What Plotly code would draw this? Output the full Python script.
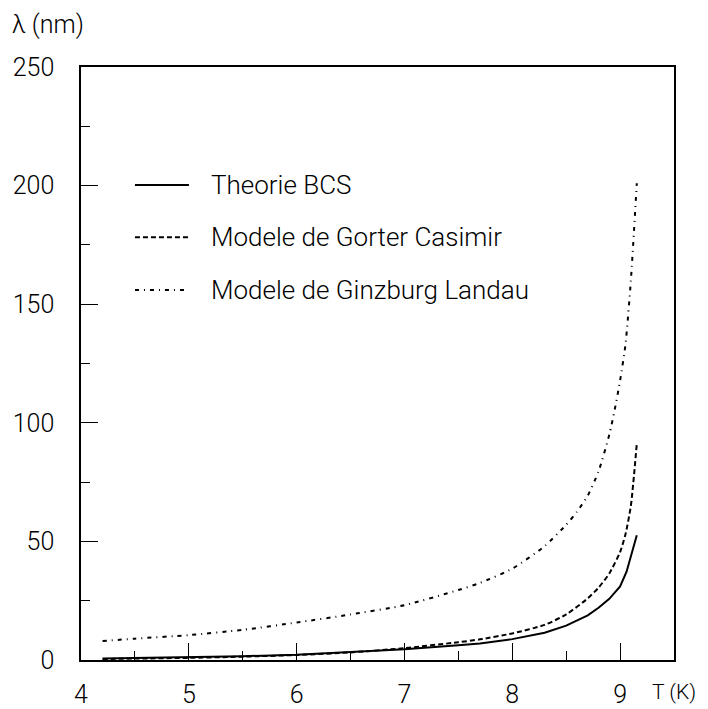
import plotly.graph_objects as go

# Temperature grids (K) and penetration depth lambda (nm)
t_bcs = [4.2, 4.5, 5.0, 5.5, 6.0, 6.5, 7.0, 7.5, 7.7, 8.0, 8.3, 8.5, 8.7, 8.8, 8.9, 9.0, 9.06, 9.155]
lam_bcs = [0.6, 0.8, 1.1, 1.6, 2.2, 3.2, 4.5, 6.2, 7.0, 8.8, 11.5, 14.5, 18.8, 22.0, 25.8, 31.0, 37.2, 52.6]

t_gc = [4.2, 4.5, 5.0, 5.5, 6.0, 6.5, 7.0, 7.5, 7.7, 8.0, 8.3, 8.5, 8.7, 8.8, 8.9, 9.0, 9.05, 9.1, 9.155]
lam_gc = [0.4, 0.6, 0.9, 1.4, 2.1, 3.2, 5.0, 7.5, 8.7, 11.2, 14.8, 19.2, 26.0, 30.5, 36.5, 45.5, 53.0, 65.0, 91.2]

t_gl = [4.2, 4.5, 5.0, 5.5, 6.0, 6.5, 7.0, 7.5, 7.7, 8.0, 8.3, 8.5, 8.6, 8.7, 8.8, 8.9, 8.95, 9.0, 9.05, 9.1, 9.155]
lam_gl = [8.0, 9.0, 10.5, 12.7, 15.8, 19.2, 23.1, 29.5, 32.5, 38.5, 48.0, 57.0, 62.5, 69.3, 79.5, 95.0, 105.5, 117.8, 133.0, 160.0, 201.0]

names = ["Theorie BCS", "Modele de Gorter Casimir", "Modele de Ginzburg Landau"]
x_ticks = [4, 5, 6, 7, 8, 9]
y_ticks = [0, 50, 100, 150, 200, 250]

FONT = "Roboto"
dashes = ["solid", "5px,3px", "4px,5px,1px,5px"]
widths = [2, 2, 2]
shapes = ["linear", "spline", "spline"]

fig = go.Figure()
for t, lam, nm, d, w, sh in zip([t_bcs, t_gc, t_gl], [lam_bcs, lam_gc, lam_gl], names, dashes, widths, shapes):
    line = dict(color="black", width=w, dash=d, shape=sh)
    if sh == "spline":
        line["smoothing"] = 0.6
    fig.add_trace(go.Scatter(x=t, y=lam, mode="lines", name=nm, line=line, showlegend=False))

# custom legend (paper coordinates)
legend_y = [0.801, 0.713, 0.624]
for nm, d, w, ly in zip(names, dashes, widths, legend_y):
    fig.add_shape(type="line", xref="paper", yref="paper",
                  x0=0.091, x1=0.182, y0=ly, y1=ly,
                  line=dict(color="black", width=w, dash=d))
    fig.add_annotation(text=nm, xref="paper", yref="paper", x=0.216, y=ly,
                       xanchor="left", yanchor="middle", showarrow=False,
                       font=dict(family=FONT, size=26, color="black", weight=300))

fig.add_annotation(text="λ (nm)", xref="paper", yref="paper", x=-0.12, y=1.072,
                   xanchor="left", yanchor="middle", showarrow=False,
                   font=dict(family=FONT, size=25, color="black", weight=300))
fig.add_annotation(text="T (K)", xref="paper", yref="paper", x=0.96, y=-0.054,
                   xanchor="left", yanchor="middle", showarrow=False,
                   font=dict(family=FONT, size=21, color="black", weight=300))

# page body has an 8px margin: shrink the figure so it fits the 708x709 window
fig.update_layout(
    width=700, height=701,
    margin=dict(l=73, r=34, t=59, b=49),
    paper_bgcolor="white", plot_bgcolor="white",
    font=dict(family=FONT, color="black", weight=300),
)
fig.update_xaxes(range=[4, 9.5], tickvals=x_ticks, ticks="inside", ticklen=17,
                 tickcolor="black", tickwidth=1, showgrid=False, zeroline=False,
                 showline=True, linecolor="black", linewidth=1.5, mirror=True,
                 automargin=False,
                 tickfont=dict(family=FONT, size=25, weight=300), ticklabelstandoff=11,
                 minor=dict(dtick=0.5, ticks="inside", ticklen=9, tickcolor="black", tickwidth=1, showgrid=False))
fig.update_yaxes(range=[0, 250], tickvals=y_ticks, ticks="inside", ticklen=17,
                 tickcolor="black", tickwidth=1, showgrid=False, zeroline=False,
                 showline=True, linecolor="black", linewidth=1.5, mirror=True,
                 automargin=False,
                 tickfont=dict(family=FONT, size=25, weight=300), ticklabelstandoff=20,
                 minor=dict(dtick=25, ticks="inside", ticklen=9, tickcolor="black", tickwidth=1, showgrid=False))

fig.write_html("out.html")
